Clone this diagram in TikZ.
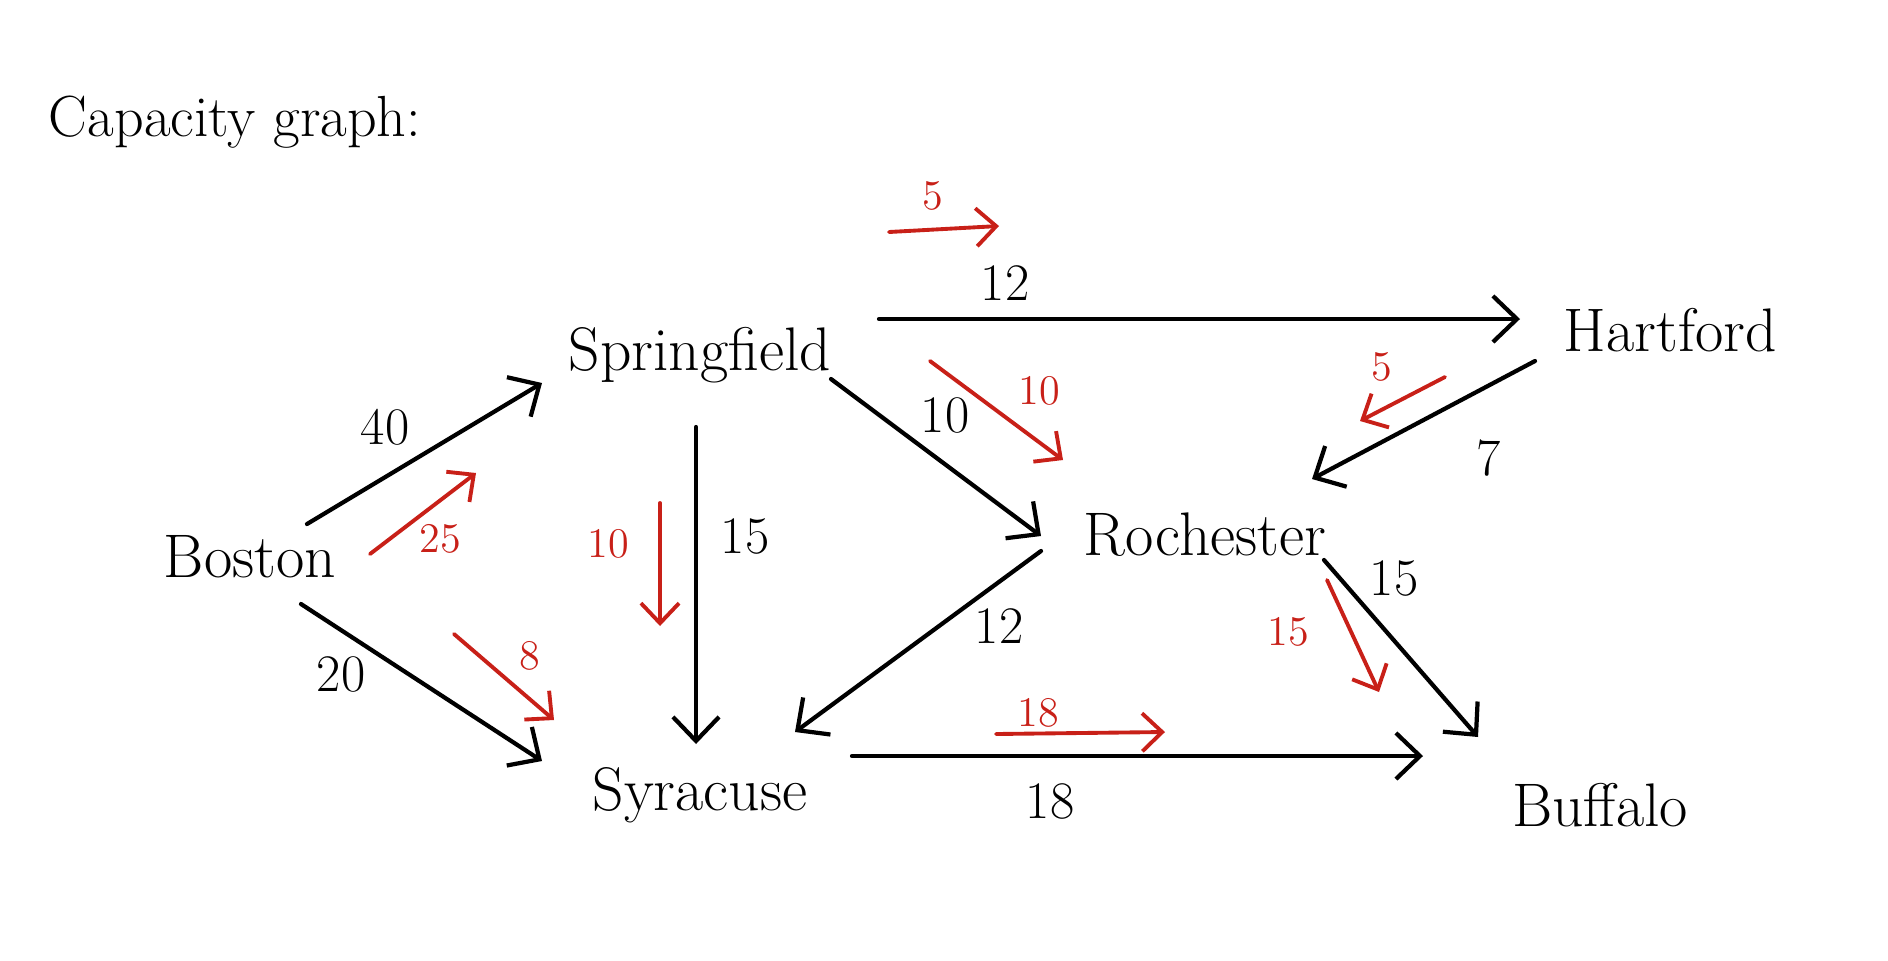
\documentclass[tikz,border=0pt]{standalone}
\usetikzlibrary{arrows.meta}
\definecolor{flowred}{RGB}{200,32,24}
\tikzset{
  capedge/.style={line width=1.2pt, -{Straight Barb[length=2.4mm,width=4.6mm]}},
  flowedge/.style={flowred, line width=1.1pt, -{Straight Barb[length=2mm,width=3.8mm]}},
  city/.style={font=\fontsize{17.5}{20}\selectfont, inner sep=0pt},
  capnum/.style={font=\fontsize{15}{17}\selectfont},
  flownum/.style={text=flowred, font=\fontsize{12}{14}\selectfont},
}
\begin{document}
\begin{tikzpicture}[x=0.01cm, y=-0.01cm, line cap=round, line join=round]
\useasboundingbox (0,0) rectangle (1888,960);

\node[font=\fontsize{16.5}{19}\selectfont] (title) at (235,122) {Capacity graph:};

% cities
\node[city] (Bos) at (250,557) {Boston};
\node[city] (Spr) at (700,355) {Springfield};
\node[city] (Har) at (1670,330) {Hartford};
\node[city] (Roc) at (1205,535) {Rochester};
\node[city] (Syr) at (700,795) {Syracuse};
\node[city] (Buf) at (1600,805) {Buffalo};

% capacities
\draw[capedge] ([shift={(57,-33)}]Bos.center) -- ([shift={(-158,28)}]Spr.center);
\draw[capedge] ([shift={(51,47)}]Bos.center) -- ([shift={(-158,-34)}]Syr.center);
\draw[capedge] ([shift={(-4,72)}]Spr.center) -- ([shift={(-4,-51)}]Syr.center);
\draw[capedge] ([shift={(179,-36)}]Spr.center) -- ([shift={(-150,-11)}]Har.center);
\draw[capedge] ([shift={(131,24)}]Spr.center) -- ([shift={(-164,1)}]Roc.center);
\draw[capedge] ([shift={(-135,31)}]Har.center) -- ([shift={(107,-56)}]Roc.center);
\draw[capedge] ([shift={(-164,16)}]Roc.center) -- ([shift={(95,-63)}]Syr.center);
\draw[capedge] ([shift={(152,-39)}]Syr.center) -- ([shift={(-177,-49)}]Buf.center);
\draw[capedge] ([shift={(119,25)}]Roc.center) -- ([shift={(-122,-68)}]Buf.center);

\node[capnum] at (385,427) {40};
\node[capnum] at (341,674) {20};
\node[capnum] at (745,536) {15};
\node[capnum] at (1005,283) {12};
\node[capnum] at (945,415) {10};
\node[capnum] at (1489,458) {7};
\node[capnum] at (999,626) {12};
\node[capnum] at (1394,578) {15};
\node[capnum] at (1050,801) {18};

% flows
\draw[flowedge] ([shift={(120,-3)}]Bos.center) -- ([shift={(-224,118)}]Spr.center);
\draw[flowedge] ([shift={(204,77)}]Bos.center) -- ([shift={(-146,-75)}]Syr.center);
\draw[flowedge] ([shift={(-40,148)}]Spr.center) -- ([shift={(-40,-169)}]Syr.center);
\draw[flowedge] ([shift={(189,-123)}]Spr.center) -- ([shift={(-671,-104)}]Har.center);
\draw[flowedge] ([shift={(230,6)}]Spr.center) -- ([shift={(-142,-75)}]Roc.center);
\draw[flowedge] ([shift={(-225,47)}]Har.center) -- ([shift={(155,-114)}]Roc.center);
\draw[flowedge] ([shift={(122,45)}]Roc.center) -- ([shift={(-221,-113)}]Buf.center);
\draw[flowedge] ([shift={(296,-61)}]Syr.center) -- ([shift={(-435,-73)}]Buf.center);

\node[flownum] at (440,539) {25};
\node[flownum] at (530,656) {8};
\node[flownum] at (608,544) {10};
\node[flownum] at (933,196) {5};
\node[flownum] at (1039,391) {10};
\node[flownum] at (1382,367) {5};
\node[flownum] at (1288,632) {15};
\node[flownum] at (1038,713) {18};
\end{tikzpicture}
\end{document}
